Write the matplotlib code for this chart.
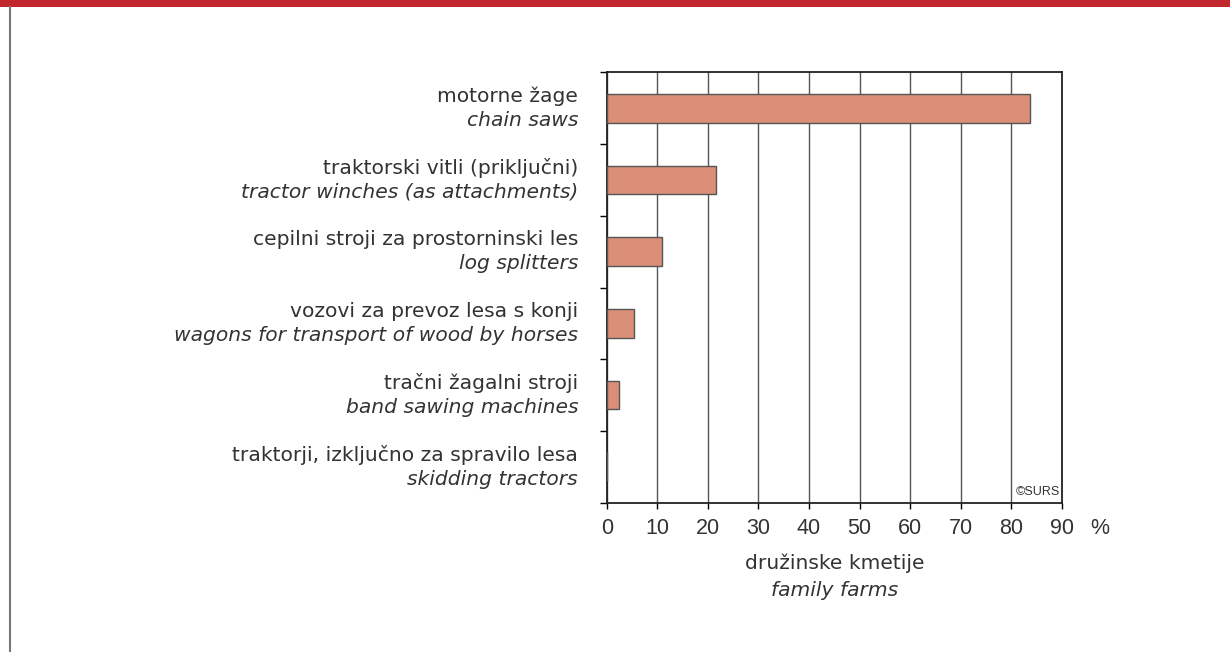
import numpy as np
import matplotlib.pyplot as plt
from matplotlib.patches import Rectangle
from matplotlib.lines import Line2D

# data
labels_si = ['motorne žage', 'traktorski vitli (priključni)',
             'cepilni stroji za prostorninski les', 'vozovi za prevoz lesa s konji',
             'tračni žagalni stroji', 'traktorji, izključno za spravilo lesa']
labels_en = ['chain saws', 'tractor winches (as attachments)', 'log splitters',
             'wagons for transport of wood by horses', 'band sawing machines',
             'skidding tractors']
values = [83.7, 21.7, 11.0, 5.3, 2.4, 0.0]
xticks = [0, 10, 20, 30, 40, 50, 60, 70, 80, 90]

plt.rcParams['font.family'] = ['Liberation Sans', 'DejaVu Sans']
txt = '#333333'
lab_font = 'DejaVu Sans'

fig = plt.figure(figsize=(12.3, 6.52), dpi=100)
# red band on top, grey line on the left
fig.patches.append(Rectangle((0, 1 - 7 / 652), 1, 7 / 652, transform=fig.transFigure,
                             facecolor='#C1272D', edgecolor='none'))
fig.lines.append(Line2D([9.5 / 1230, 9.5 / 1230], [0, 1 - 7 / 652], transform=fig.transFigure,
                        color='#777777', lw=1.5))

ax = fig.add_axes([606.7 / 1230, 149.3 / 652, 455.3 / 1230, 430.4 / 652])
n = len(values)
y = np.arange(n)
ax.barh(y, values, height=0.4, color='#DB8F78', edgecolor='#555555', lw=1, zorder=3)
ax.set_ylim(n - 0.5, -0.5)
ax.set_xlim(0, 90)

ax.set_xticks(xticks)
ax.set_xticklabels([str(v) for v in xticks], fontsize=15.5, color=txt)
ax.set_yticks(np.arange(n + 1) - 0.5)
ax.set_yticklabels([])
ax.tick_params(axis='y', length=5, width=1, direction='out')
ax.tick_params(axis='x', length=4, width=1, direction='out', pad=7)
ax.grid(axis='x', color='#555555', lw=1, zorder=0)
for s in ax.spines.values():
    s.set_linewidth(1.3)
    s.set_color('#222222')

for i in range(n):
    ax.text(-0.063, i - 0.17, labels_si[i], transform=ax.get_yaxis_transform(),
            ha='right', va='center', fontsize=14.6, color=txt, family=lab_font)
    ax.text(-0.063, i + 0.17, labels_en[i], transform=ax.get_yaxis_transform(),
            ha='right', va='center', fontsize=14.6, color=txt, style='italic',
            family=lab_font)

fig.text(1090 / 1230, 1 - 528 / 652, '%', fontsize=15.5, color=txt, ha='left', va='center')
ax.text(0.995, 0.012, '©SURS', transform=ax.transAxes, ha='right', va='bottom',
        fontsize=9, color=txt)

fig.text(0.5 * (606.7 + 1062) / 1230, 1 - 563 / 652, 'družinske kmetije', ha='center',
         va='center', fontsize=14.6, color=txt, family=lab_font)
fig.text(0.5 * (606.7 + 1062) / 1230, 1 - 590 / 652, 'family farms', ha='center',
         va='center', fontsize=14.6, color=txt, style='italic', family=lab_font)

fig.savefig('out.png', dpi=100)
